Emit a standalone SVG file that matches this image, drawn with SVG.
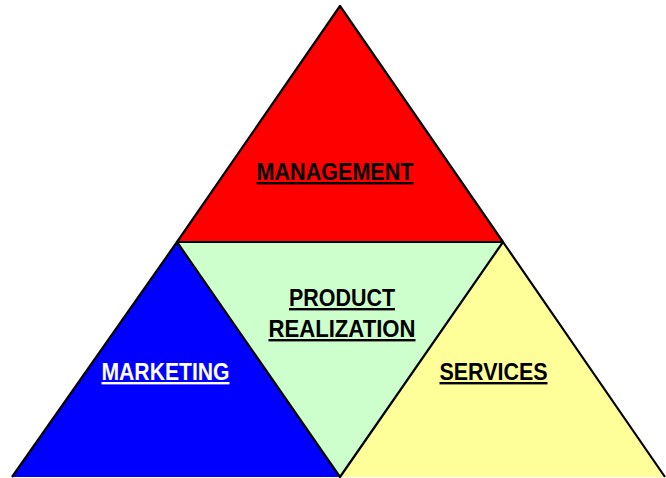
<svg xmlns="http://www.w3.org/2000/svg" width="666" height="478" viewBox="0 0 666 478">
<style>
.edge{fill:none;stroke:#000;stroke-width:2.2;stroke-linejoin:round}
.lbl{font-family:"Liberation Sans Narrow","Liberation Sans",Arial,sans-serif;font-weight:bold;font-size:24px;text-anchor:middle;text-decoration:underline}
</style>
<rect width="666" height="478" fill="#fff"/>
<g id="management">
<polygon points="340,6 177,242 503,242" fill="#FF0000"/>
<polyline class="edge" points="177,242 340,6 503,242"/>
<text class="lbl" x="335" y="180" textLength="157" lengthAdjust="spacingAndGlyphs" fill="#000">MANAGEMENT</text>
</g>
<g id="product-realization">
<polygon points="177,242 503,242 340,477" fill="#CCFFCC"/>
<text class="lbl" x="342" y="306" textLength="106" lengthAdjust="spacingAndGlyphs" fill="#000">PRODUCT</text>
<text class="lbl" x="342" y="337" textLength="147" lengthAdjust="spacingAndGlyphs" fill="#000">REALIZATION</text>
</g>
<g id="marketing">
<polygon points="177,242 12,477 340,477" fill="#0000FF"/>
<text class="lbl" x="165.5" y="380" textLength="128" lengthAdjust="spacingAndGlyphs" fill="#fff">MARKETING</text>
</g>
<g id="services">
<polygon points="503,242 340,477 665,477" fill="#FFFF99"/>
<text class="lbl" x="493.5" y="380" textLength="108" lengthAdjust="spacingAndGlyphs" fill="#000">SERVICES</text>
</g>
<g id="connectors">
<polyline class="edge" points="177,242 503,242"/>
<polyline class="edge" points="12,477 177,242 340,477 503,242 665,477"/>
</g>
</svg>
